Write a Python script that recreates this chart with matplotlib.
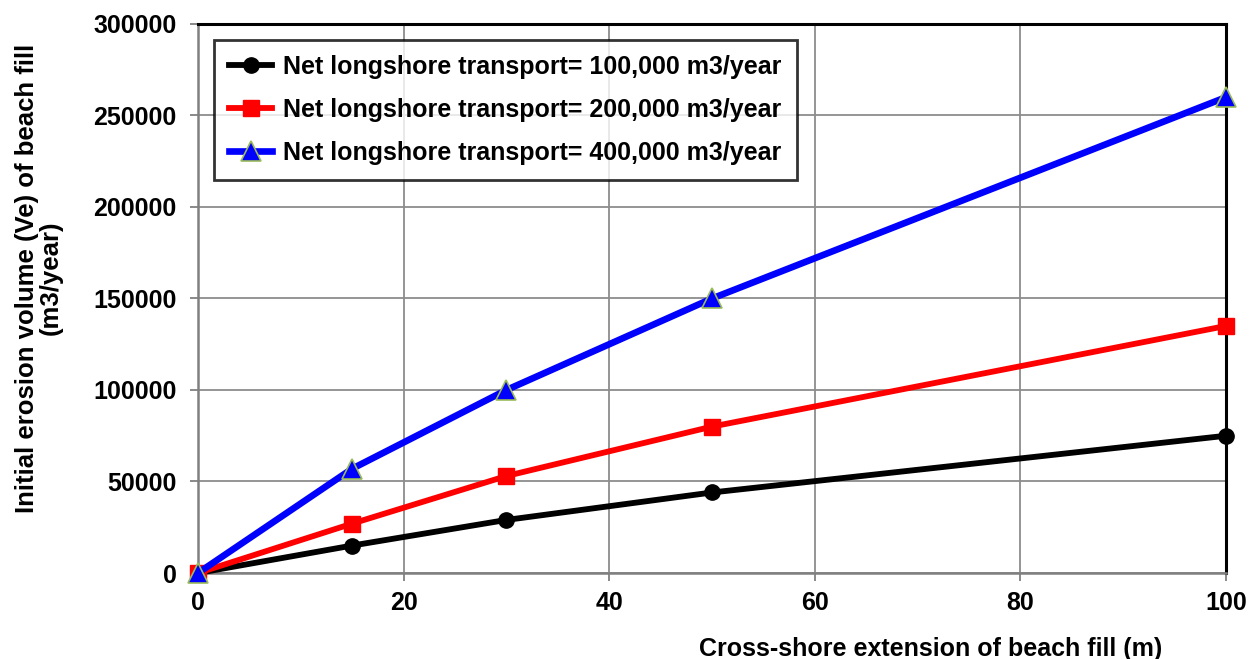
import matplotlib.pyplot as plt

plt.rcParams['font.family'] = ['Liberation Sans', 'DejaVu Sans']
plt.rcParams['font.weight'] = 'bold'

# data
extension_m = [0, 15, 30, 50, 100]
ve_100k = [0, 15000, 29000, 44000, 75000]
ve_200k = [0, 27000, 53000, 80000, 135000]
ve_400k = [0, 57000, 100000, 150000, 260000]

labels = [
    'Net longshore transport= 100,000 m3/year',
    'Net longshore transport= 200,000 m3/year',
    'Net longshore transport= 400,000 m3/year',
]

x_ticks = [0, 20, 40, 60, 80, 100]
y_ticks = [0, 50000, 100000, 150000, 200000, 250000, 300000]

fig = plt.figure(figsize=(12.58, 6.59), dpi=100)
ax = fig.add_axes([0.1574, 0.1305, 0.8172, 0.8331])

ax.plot(extension_m, ve_100k, color='black', lw=4.2, marker='o', ms=11,
        label=labels[0], clip_on=False, zorder=4)
ax.plot(extension_m, ve_200k, color='#ff0000', lw=4.2, marker='s', ms=11,
        label=labels[1], clip_on=False, zorder=4)
ax.plot(extension_m, ve_400k, color='#0000ff', lw=4.8, marker='^', ms=14,
        mfc='#0000ff', mec='#9bbb59', mew=1.2,
        label=labels[2], clip_on=False, zorder=5)

ax.set_xlim(0, 100)
ax.set_ylim(0, 300000)
ax.set_xticks(x_ticks)
ax.set_yticks(y_ticks)
ax.grid(True, color='#8c8c8c', lw=1.3)
ax.set_axisbelow(True)

for side in ['left', 'bottom']:
    ax.spines[side].set_color('#808080')
    ax.spines[side].set_linewidth(1.8)
for side in ['top', 'right']:
    ax.spines[side].set_color('black')
    ax.spines[side].set_linewidth(2.2)

ax.tick_params(axis='both', direction='out', length=6, width=1.3,
               color='#808080', labelsize=18)
ax.tick_params(axis='x', pad=7)
ax.tick_params(axis='y', pad=9.5)
for lab in ax.get_xticklabels() + ax.get_yticklabels():
    lab.set_fontweight('bold')

ax.set_xlabel('Cross-shore extension of beach fill (m)', fontsize=18,
              fontweight='bold')
ax.xaxis.set_label_coords(0.713, -0.117)
ax.set_ylabel('Initial erosion volume (Ve) of beach fill\n(m3/year)',
              fontsize=18.5, fontweight='bold', linespacing=0.95)
ax.yaxis.set_label_coords(-0.132, 0.537)

leg = ax.legend(loc='upper left', bbox_to_anchor=(0.016, 0.971),
                fontsize=18, frameon=True, fancybox=False,
                handlelength=1.7, handletextpad=0.45, labelspacing=0.76,
                borderpad=0.6, borderaxespad=0)
leg.get_frame().set_edgecolor('black')
leg.get_frame().set_linewidth(2)
for t in leg.get_texts():
    t.set_fontweight('bold')

fig.savefig('out.png', dpi=100)
